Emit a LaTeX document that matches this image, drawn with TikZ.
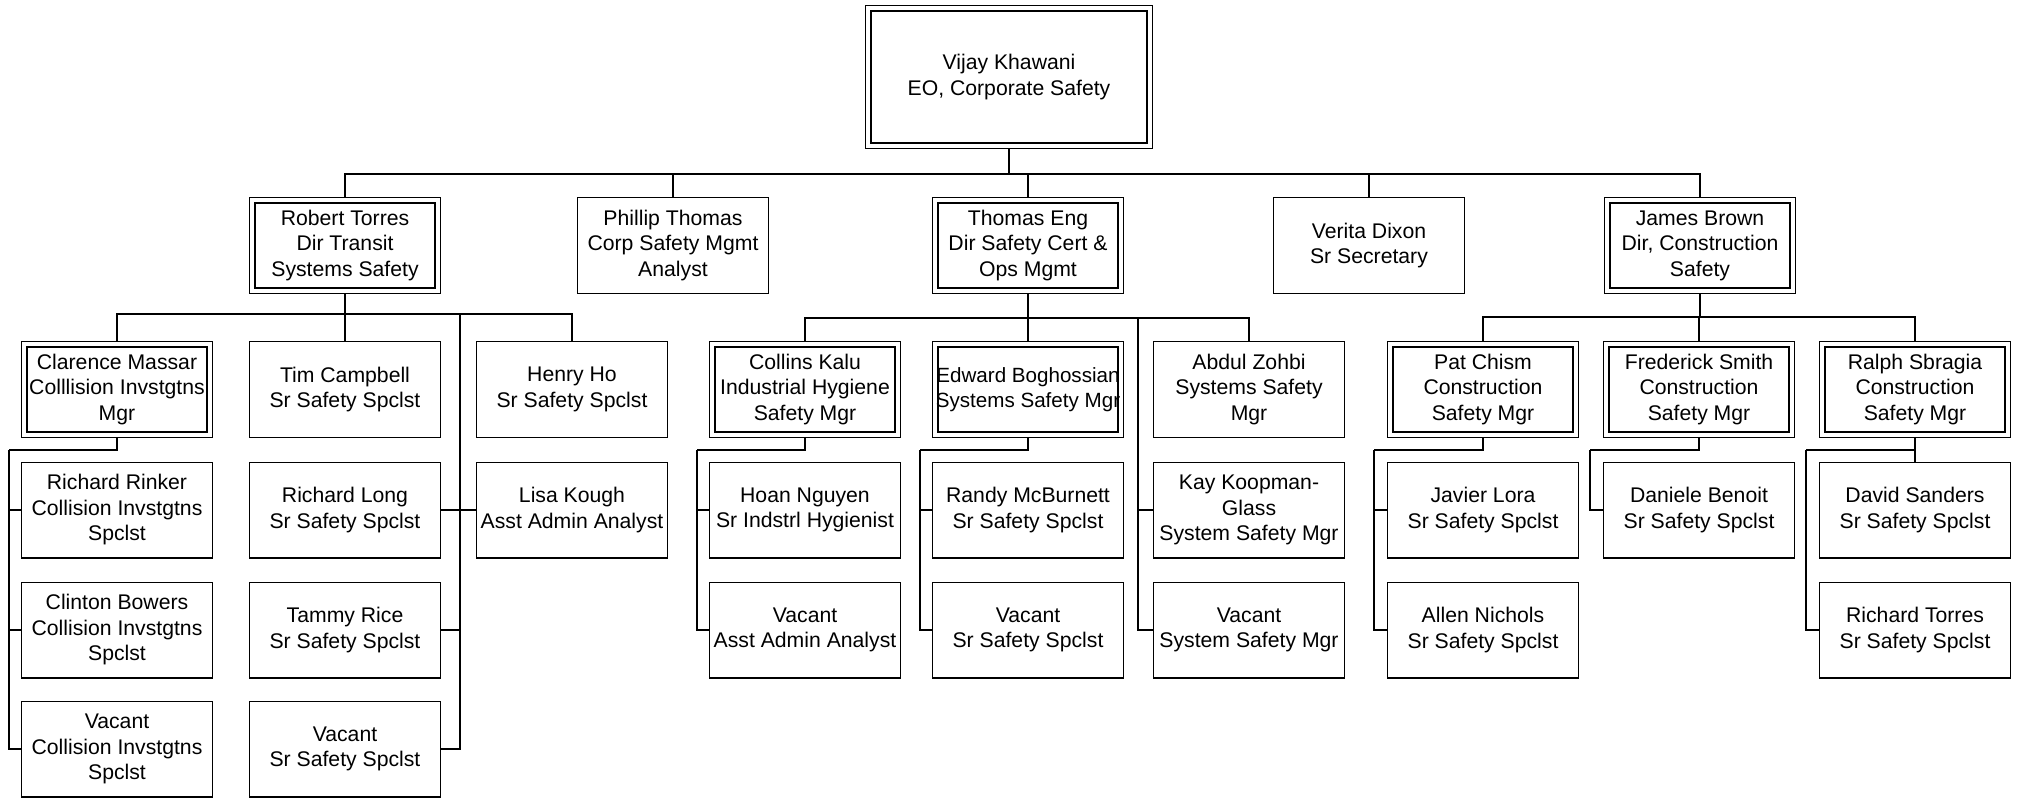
\documentclass[tikz,border=0pt]{standalone}
\usepackage{fontspec}
\setmainfont{Liberation Sans}
\usepackage{tikz}

\begin{document}
\begin{tikzpicture}[x=0.5pt,y=0.5pt,
	box/.style={draw,line width=0.65pt,minimum width=95.35pt,minimum height=47.85pt,inner sep=1pt,align=center,font=\fontsize{10.6}{12.75}\selectfont},
	mgr/.style={box,double,double distance=2pt,outer sep=1.65pt,minimum width=92.7pt,minimum height=45.2pt},
	link/.style={line width=0.65pt},
	trunk/.style={line width=1pt}]
	\useasboundingbox (0,0) rectangle (2019,-798);
	\node[mgr,minimum width=140.7pt,minimum height=68.7pt] (vk) at (1009,-77) {Vijay Khawani\\EO, Corporate Safety};
	\node[mgr] (rt) at (345,-245.5) {Robert Torres\\Dir Transit\\Systems Safety};
	\node[box] (pt) at (673,-245.5) {Phillip Thomas\\Corp Safety Mgmt\\Analyst};
	\node[mgr] (te) at (1028,-245.5) {Thomas Eng\\Dir Safety Cert \&\\Ops Mgmt};
	\node[box] (vd) at (1369,-245.5) {Verita Dixon\\Sr Secretary};
	\node[mgr] (jb) at (1700,-245.5) {James Brown\\Dir, Construction\\Safety};
	% first row of staff
	\node[mgr] (cm) at (117,-389.5) {Clarence Massar\\Colllision Invstgtns\\Mgr};
	\node[box] (tc) at (345,-389.5) {Tim Campbell\\Sr Safety Spclst};
	\node[box] (hh) at (572,-389.5) {Henry Ho\\Sr Safety Spclst};
	\node[mgr] (ck) at (805,-389.5) {Collins Kalu\\Industrial Hygiene\\Safety Mgr};
	\node[mgr,inner sep=0pt,font=\fontsize{10.3}{12.75}\selectfont] (eb) at (1028,-389.5) {Edward Boghossian\\Systems Safety Mgr};
	\node[box] (az) at (1249,-389.5) {Abdul Zohbi\\Systems Safety\\Mgr};
	\node[mgr] (pc) at (1483,-389.5) {Pat Chism\\Construction\\Safety Mgr};
	\node[mgr] (fs) at (1699,-389.5) {Frederick Smith\\Construction\\Safety Mgr};
	\node[mgr] (rs) at (1915,-389.5) {Ralph Sbragia\\Construction\\Safety Mgr};
	% second row
	\node[box] (rr) at (117,-510) {Richard Rinker\\Collision Invstgtns\\Spclst};
	\node[box] (rl) at (345,-510) {Richard Long\\Sr Safety Spclst};
	\node[box] (lk) at (572,-510) {Lisa Kough\\Asst Admin Analyst};
	\node[box] (hn) at (805,-510) {Hoan Nguyen\\Sr Indstrl Hygienist};
	\node[box] (rm) at (1028,-510) {Randy McBurnett\\Sr Safety Spclst};
	\node[box] (kk) at (1249,-510) {Kay Koopman-\\Glass\\System Safety Mgr};
	\node[box] (jl) at (1483,-510) {Javier Lora\\Sr Safety Spclst};
	\node[box] (db) at (1699,-510) {Daniele Benoit\\Sr Safety Spclst};
	\node[box] (ds) at (1915,-510) {David Sanders\\Sr Safety Spclst};
	% third row
	\node[box] (cb) at (117,-630) {Clinton Bowers\\Collision Invstgtns\\Spclst};
	\node[box] (tr) at (345,-630) {Tammy Rice\\Sr Safety Spclst};
	\node[box] (vaa) at (805,-630) {Vacant\\Asst Admin Analyst};
	\node[box] (vss) at (1028,-630) {Vacant\\Sr Safety Spclst};
	\node[box] (vsm) at (1249,-630) {Vacant\\System Safety Mgr};
	\node[box] (an) at (1483,-630) {Allen Nichols\\Sr Safety Spclst};
	\node[box] (rto) at (1915,-630) {Richard Torres\\Sr Safety Spclst};
	% fourth row
	\node[box] (vci) at (117,-749) {Vacant\\Collision Invstgtns\\Spclst};
	\node[box] (vsp) at (345,-749) {Vacant\\Sr Safety Spclst};
	% top level
	\draw[trunk] (vk.south) -- ++(0,-25) coordinate (top);
	\draw[link] (rt.north) |- (top);
	\draw[link] (pt.north) |- (top);
	\draw[link] (te.north) |- (top);
	\draw[link] (vd.north) |- (top);
	\draw[link] (jb.north) |- (top);
	% transit systems safety
	\draw[trunk] (rt.south) -- ++(0,-20) coordinate (rtbar);
	\draw[link] (cm.north) |- (rtbar);
	\draw[link] (tc.north) |- (rtbar);
	\draw[link] (hh.north) |- (rtbar);
	\coordinate (rtspine) at (460,-314);
	\draw[trunk] (rtspine) |- (vsp.east);
	\draw[link] (rl.east) -- (lk.west);
	\draw[link] (tr.east) -- (tr.east -| rtspine);
	\coordinate (cmspine) at (9,-450);
	\draw[trunk] (cm.south) |- (cmspine);
	\draw[link] (cmspine) |- (vci.west);
	\draw[link] (rr.west) -- (rr.west -| cmspine);
	\draw[link] (cb.west) -- (cb.west -| cmspine);
	% safety cert and ops
	\draw[trunk] (te.south) -- ++(0,-24) coordinate (tebar);
	\draw[link] (ck.north) |- (tebar);
	\draw[link] (eb.north) |- (tebar);
	\draw[link] (az.north) |- (tebar);
	\coordinate (tespine) at (1138,-318);
	\draw[trunk] (tespine) |- (vsm.west);
	\draw[link] (kk.west) -- (kk.west -| tespine);
	\coordinate (ckspine) at (697,-450);
	\draw[trunk] (ck.south) |- (ckspine);
	\draw[link] (ckspine) |- (vaa.west);
	\draw[link] (hn.west) -- (hn.west -| ckspine);
	\coordinate (ebspine) at (920,-450);
	\draw[trunk] (eb.south) |- (ebspine);
	\draw[link] (ebspine) |- (vss.west);
	\draw[link] (rm.west) -- (rm.west -| ebspine);
	% construction safety
	\draw[trunk] (jb.south) -- ++(0,-23) coordinate (jbbar);
	\draw[link] (pc.north) |- (jbbar);
	\draw[link] (fs.north) |- (jbbar);
	\draw[link] (rs.north) |- (jbbar);
	\coordinate (pcspine) at (1374,-450);
	\draw[trunk] (pc.south) |- (pcspine);
	\draw[link] (pcspine) |- (an.west);
	\draw[link] (jl.west) -- (jl.west -| pcspine);
	\coordinate (fsspine) at (1590,-450);
	\draw[trunk] (fs.south) |- (fsspine);
	\draw[link] (fsspine) |- (db.west);
	\coordinate (rsspine) at (1806,-450);
	\draw[link] (rs.south) -- (ds.north);
	\draw[trunk] (rs.south) |- (rsspine);
	\draw[link] (rsspine) |- (rto.west);
\end{tikzpicture}
\end{document}
